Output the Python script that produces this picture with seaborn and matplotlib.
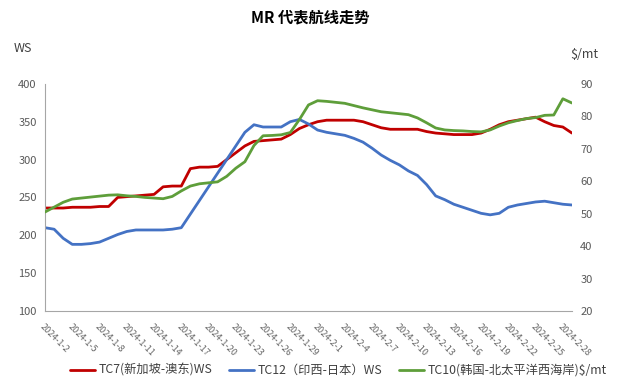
import numpy as np
import pandas as pd
import matplotlib
matplotlib.use('Agg')
import matplotlib.pyplot as plt
import seaborn as sns

dates = pd.date_range('2024-01-02', '2024-02-29', freq='D')

tc7_ws = [236, 236, 236, 237, 237, 237, 238, 238, 250, 251,
          252, 253, 254, 264, 265, 265, 288, 290, 290, 291,
          300, 309, 318, 324, 325, 326, 327, 333, 341, 346,
          350, 352, 352, 352, 352, 350, 346, 342, 340, 340,
          340, 340, 337, 335, 334, 333, 333, 333, 335, 340,
          346, 350, 352, 354, 356, 350, 345, 343, 335]

tc12_ws = [210, 208, 196, 188, 188, 189, 191, 196, 201, 205,
           207, 207, 207, 207, 208, 210, 228, 246, 264, 282,
           300, 318, 336, 346, 343, 343, 343, 350, 353, 347,
           339, 336, 334, 332, 328, 323, 315, 306, 299, 293,
           285, 279, 267, 252, 247, 241, 237, 233, 229, 227,
           229, 237, 240, 242, 244, 245, 243, 241, 240]

tc10_usd = [50.5, 52.0, 53.5, 54.5, 54.8, 55.1, 55.4, 55.7, 55.8, 55.5,
            55.3, 55.0, 54.8, 54.6, 55.3, 57.0, 58.5, 59.2, 59.5, 59.8,
            61.5, 64.0, 66.0, 71.0, 74.0, 74.1, 74.3, 75.0, 79.0, 83.5,
            84.8, 84.6, 84.3, 84.0, 83.3, 82.6, 82.0, 81.4, 81.1, 80.8,
            80.5, 79.5, 78.0, 76.4, 75.8, 75.6, 75.5, 75.3, 75.2, 75.8,
            77.0, 78.0, 78.7, 79.3, 79.6, 80.3, 80.4, 85.4, 84.1]

labels = ['TC7(新加坡-澳东)WS', 'TC12（印西-日本）WS', 'TC10(韩国-北太平洋西海岸)$/mt']
colors = ['#C00000', '#4472C4', '#5E9E3A']

sns.set_style('white')
plt.rcParams['font.family'] = ['Noto Sans CJK SC', 'DejaVu Sans']

df = pd.DataFrame({'i': np.arange(len(dates)), 'tc7': tc7_ws, 'tc12': tc12_ws, 'tc10': tc10_usd})

fig = plt.figure(figsize=(6.21, 3.90), dpi=100)
ax = fig.add_axes([0.0725, 0.2026, 0.8485, 0.5824])
ax2 = ax.twinx()

sns.lineplot(data=df, x='i', y='tc7', ax=ax, color=colors[0], linewidth=2, label=labels[0], legend=False)
sns.lineplot(data=df, x='i', y='tc12', ax=ax, color=colors[1], linewidth=2, label=labels[1], legend=False)
sns.lineplot(data=df, x='i', y='tc10', ax=ax2, color=colors[2], linewidth=2, label=labels[2], legend=False)

ax.set_xlim(0, len(dates) - 1)
ax.set_ylim(100, 400)
ax.set_yticks(range(100, 401, 50))
ax2.set_ylim(20, 90)
ax2.set_yticks(range(20, 91, 10))

ticks = np.arange(0, len(dates), 3)
ax.set_xticks(ticks)
ax.set_xticklabels([f'{d.year}-{d.month}-{d.day}' for d in dates[ticks]],
                   rotation=-45, ha='left', va='top', rotation_mode='anchor')
ax.set_xlabel('')
ax.set_ylabel('')
ax2.set_ylabel('')

for a in (ax, ax2):
    a.tick_params(axis='both', length=0, labelsize=8, colors='#595959', pad=6)
    for s in a.spines.values():
        s.set_visible(False)
ax.spines['left'].set_visible(True)
ax.spines['bottom'].set_visible(True)
ax.spines['left'].set_color('#A6A6A6')
ax.spines['bottom'].set_color('#A6A6A6')
ax.tick_params(axis='x', labelsize=6.5, pad=8, colors='#666666')

fig.text(0.5, 0.955, 'MR 代表航线走势', ha='center', va='center', fontsize=11, fontweight='bold', color='black')
fig.text(0.022, 0.875, 'WS', ha='left', va='center', fontsize=9, color='#404040')
fig.text(0.918, 0.86, '$/mt', ha='left', va='center', fontsize=9, color='#404040')

handles = ax.get_lines()[:2] + ax2.get_lines()[:1]
fig.legend(handles, labels, loc='center', bbox_to_anchor=(0.545, 0.05), ncol=3, frameon=False,
           fontsize=8.8, handlelength=2.0, handletextpad=0.3, columnspacing=1.4, labelcolor='#404040')

fig.savefig('out.png', dpi=100)
